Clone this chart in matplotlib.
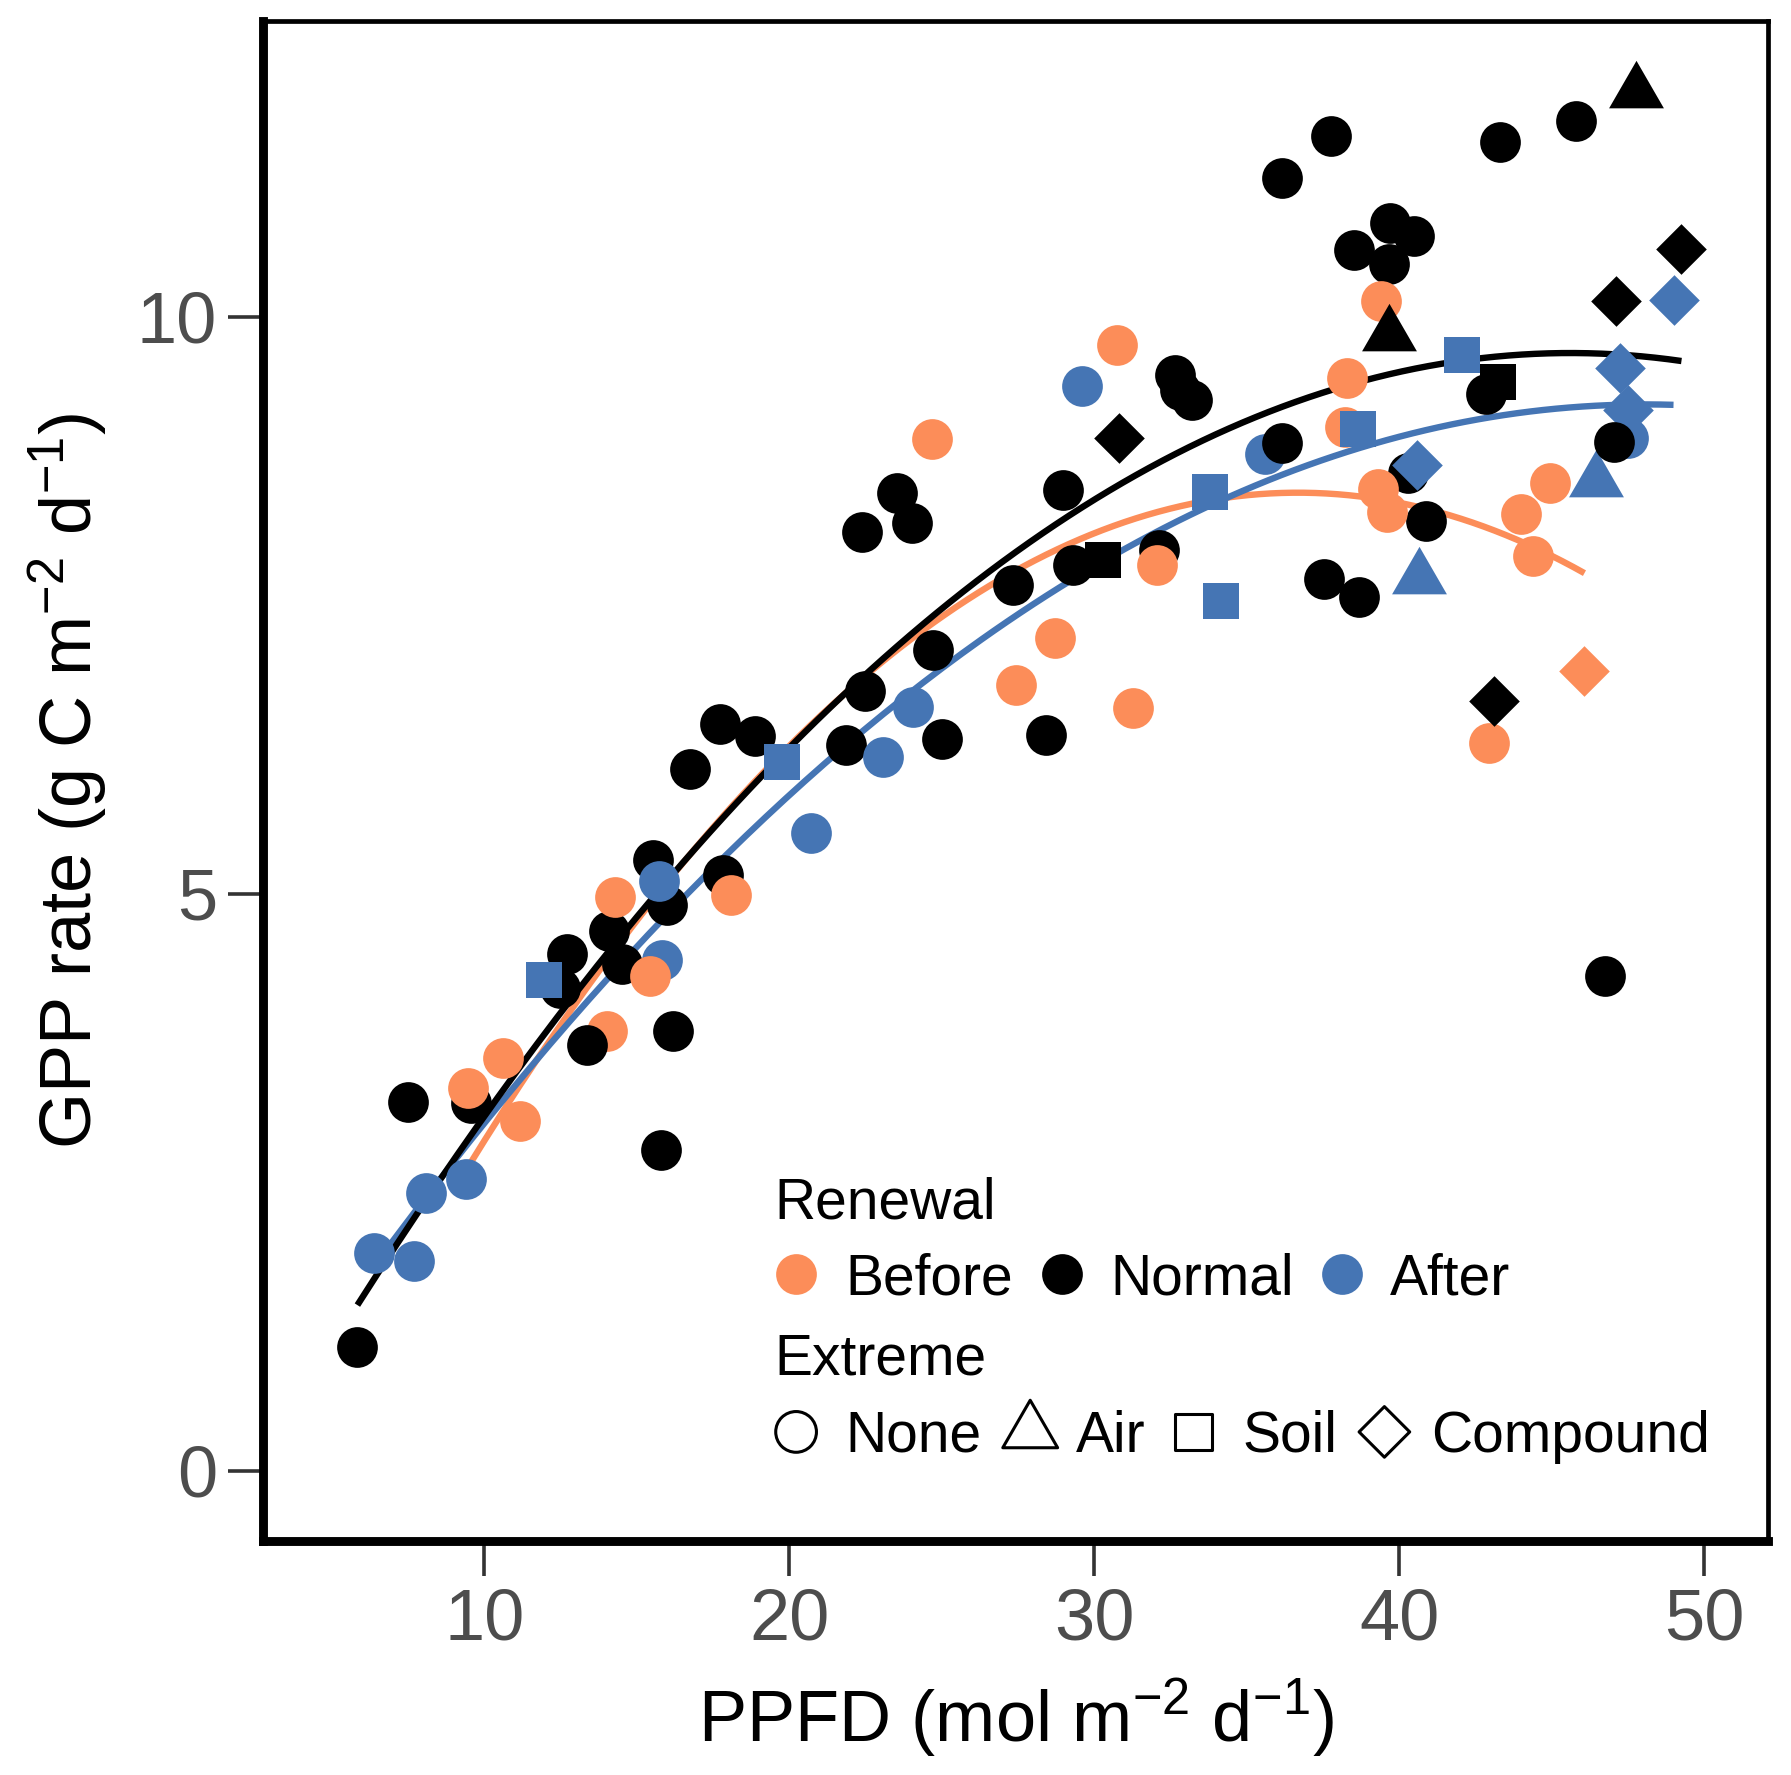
import numpy as np
import matplotlib.pyplot as plt
from matplotlib.path import Path

plt.rcParams['font.family'] = ['Liberation Sans', 'DejaVu Sans']
plt.rcParams['mathtext.default'] = 'regular'

# ---- data, drawing order kept for overlaps ----
ppfd = [5.84, 7.49, 9.55, 12.47, 12.71, 14.10, 14.51, 15.54, 16.00, 16.19,
        15.80, 17.82, 16.74, 17.73, 18.86, 21.86, 22.48, 22.37, 23.52, 24.01,
        24.70, 25.00, 27.34, 28.40, 28.99, 29.31, 32.13, 32.64, 32.80, 33.19,
        36.15, 37.76, 37.54, 38.67, 38.50, 39.69, 40.49, 39.66, 40.30, 40.87,
        42.83, 43.31, 45.80, 46.74,
        30.30, 43.24, 47.75, 30.82, 47.12, 49.25,
        # before
        9.48, 10.60, 11.18, 14.03, 14.28, 18.09, 24.69, 27.43, 28.70, 30.74,
        31.28, 32.07, 38.27, 38.22, 39.41, 39.29, 39.60, 42.94, 44.00, 44.38,
        44.94, 46.07,
        # after
        6.37, 7.69, 8.10, 9.39, 15.72, 15.82, 20.72, 23.08, 24.06, 29.60,
        35.60, 47.50,
        11.95, 19.77, 33.79, 34.16, 38.66, 42.04,
        40.66, 46.44, 40.57, 47.23, 47.49, 48.99,
        # drawn last
        13.37, 36.16, 47.04, 39.67, 43.10, 15.42]
gpp = [1.07, 3.20, 3.19, 4.18, 4.48, 4.68, 4.39, 5.29, 4.90, 3.81,
       2.78, 5.16, 6.08, 6.47, 6.37, 6.29, 6.76, 8.14, 8.47, 8.21,
       7.11, 6.34, 7.68, 6.38, 8.50, 7.85, 7.98, 9.50, 9.37, 9.28,
       11.20, 11.57, 7.73, 7.57, 10.58, 10.81, 10.70, 10.46, 8.65, 8.23,
       9.33, 11.52, 11.70, 4.29,
       7.89, 9.44, 11.95, 8.95, 10.14, 10.59,
       3.32, 3.58, 3.03, 3.81, 4.97, 4.99, 8.94, 6.81, 7.22, 9.76,
       6.61, 7.85, 9.47, 9.05, 10.14, 8.51, 8.31, 6.31, 8.29, 7.93,
       8.56, 6.93,
       1.89, 1.82, 2.41, 2.53, 5.11, 4.43, 5.53, 6.19, 6.62, 9.40,
       8.81, 8.95,
       4.25, 6.14, 8.48, 7.54, 9.03, 9.67,
       7.74, 8.58, 8.72, 9.56, 9.19, 10.15,
       3.69, 8.91, 8.92, 9.84, 6.67, 4.29]
renewal = (['Normal'] * 50 + ['Before'] * 22 + ['After'] * 24
           + ['Normal'] * 5 + ['Before'])
extreme = (['None'] * 44 + ['Soil', 'Soil', 'Air', 'Compound', 'Compound', 'Compound']
           + ['None'] * 21 + ['Compound']
           + ['None'] * 12 + ['Soil'] * 6 + ['Air'] * 2 + ['Compound'] * 4
           + ['None', 'None', 'None', 'Air', 'Compound', 'None'])

colors = {'Before': '#FC8D59', 'Normal': 'black', 'After': '#4575B4'}

tri = Path([(0, 0.5774), (-0.5, -0.2887), (0.5, -0.2887), (0, 0.5774)],
           [Path.MOVETO, Path.LINETO, Path.LINETO, Path.CLOSEPOLY])
markers = {'None': 'o', 'Air': tri, 'Soil': 's', 'Compound': 'D'}
sizes = {'None': 215, 'Air': 520, 'Soil': 174, 'Compound': 166}

ppfd = np.array(ppfd)
gpp = np.array(gpp)
renewal = np.array(renewal)
extreme = np.array(extreme)

fig = plt.figure(figsize=(8.955, 8.875), dpi=200)
ax = fig.add_axes([0.1471, 0.1318, 0.8401, 0.8564])

# quadratic fits per renewal group
for r in ['Before', 'After', 'Normal']:
    m = renewal == r
    coef = np.polyfit(ppfd[m], gpp[m], 2)
    xs = np.linspace(ppfd[m].min(), ppfd[m].max(), 200)
    ax.plot(xs, np.polyval(coef, xs), color=colors[r], lw=2.3, zorder=2,
            solid_capstyle='butt')

for xi, yi, r, e in zip(ppfd, gpp, renewal, extreme):
    ax.scatter([xi], [yi], s=sizes[e], marker=markers[e], color=colors[r],
               linewidths=0, zorder=3)

ax.set_xlim(2.76, 52.09)
ax.set_ylim(-0.609, 12.565)
ax.set_xticks([10, 20, 30, 40, 50])
ax.set_yticks([0, 5, 10])
ax.tick_params(length=12.6, width=1.3, color='#333333', labelcolor='#4D4D4D',
               labelsize=26, pad=4)
for s in ['left', 'bottom']:
    ax.spines[s].set_linewidth(3.2)
for s in ['top', 'right']:
    ax.spines[s].set_linewidth(1.7)

ax.set_xlabel('PPFD (mol m$^{-2}$ d$^{-1}$)', fontsize=26, labelpad=8)
ax.set_ylabel('GPP rate (g C m$^{-2}$ d$^{-1}$)', fontsize=26, labelpad=10)

# legend drawn inside the panel
fs = 20.5
ax.text(0.3396, 0.2121, 'Renewal', transform=ax.transAxes, fontsize=fs, va='baseline')
row1 = [(0.354, 0.3866, 'Before'), (0.531, 0.5627, 'Normal'), (0.7168, 0.7487, 'After')]
for (mx, tx, lab) in row1:
    ax.scatter([mx], [0.1754], s=215, marker='o', color=colors[lab], linewidths=0,
               transform=ax.transAxes, clip_on=False, zorder=4)
    ax.text(tx, 0.1621, lab, transform=ax.transAxes, fontsize=fs, va='baseline')

ax.text(0.3396, 0.1094, 'Extreme', transform=ax.transAxes, fontsize=fs, va='baseline')
row2 = [(0.354, 0.3866, 'None'), (0.5096, 0.540, 'Air'), (0.6182, 0.6508, 'Soil'),
        (0.745, 0.7761, 'Compound')]
for (mx, tx, lab) in row2:
    ax.scatter([mx], [0.0718], s=sizes[lab], marker=markers[lab], facecolors='none',
               edgecolors='black', linewidths=1.1, transform=ax.transAxes,
               clip_on=False, zorder=4)
    ax.text(tx, 0.0588, lab, transform=ax.transAxes, fontsize=fs, va='baseline')

fig.savefig('out.png', dpi=200)
